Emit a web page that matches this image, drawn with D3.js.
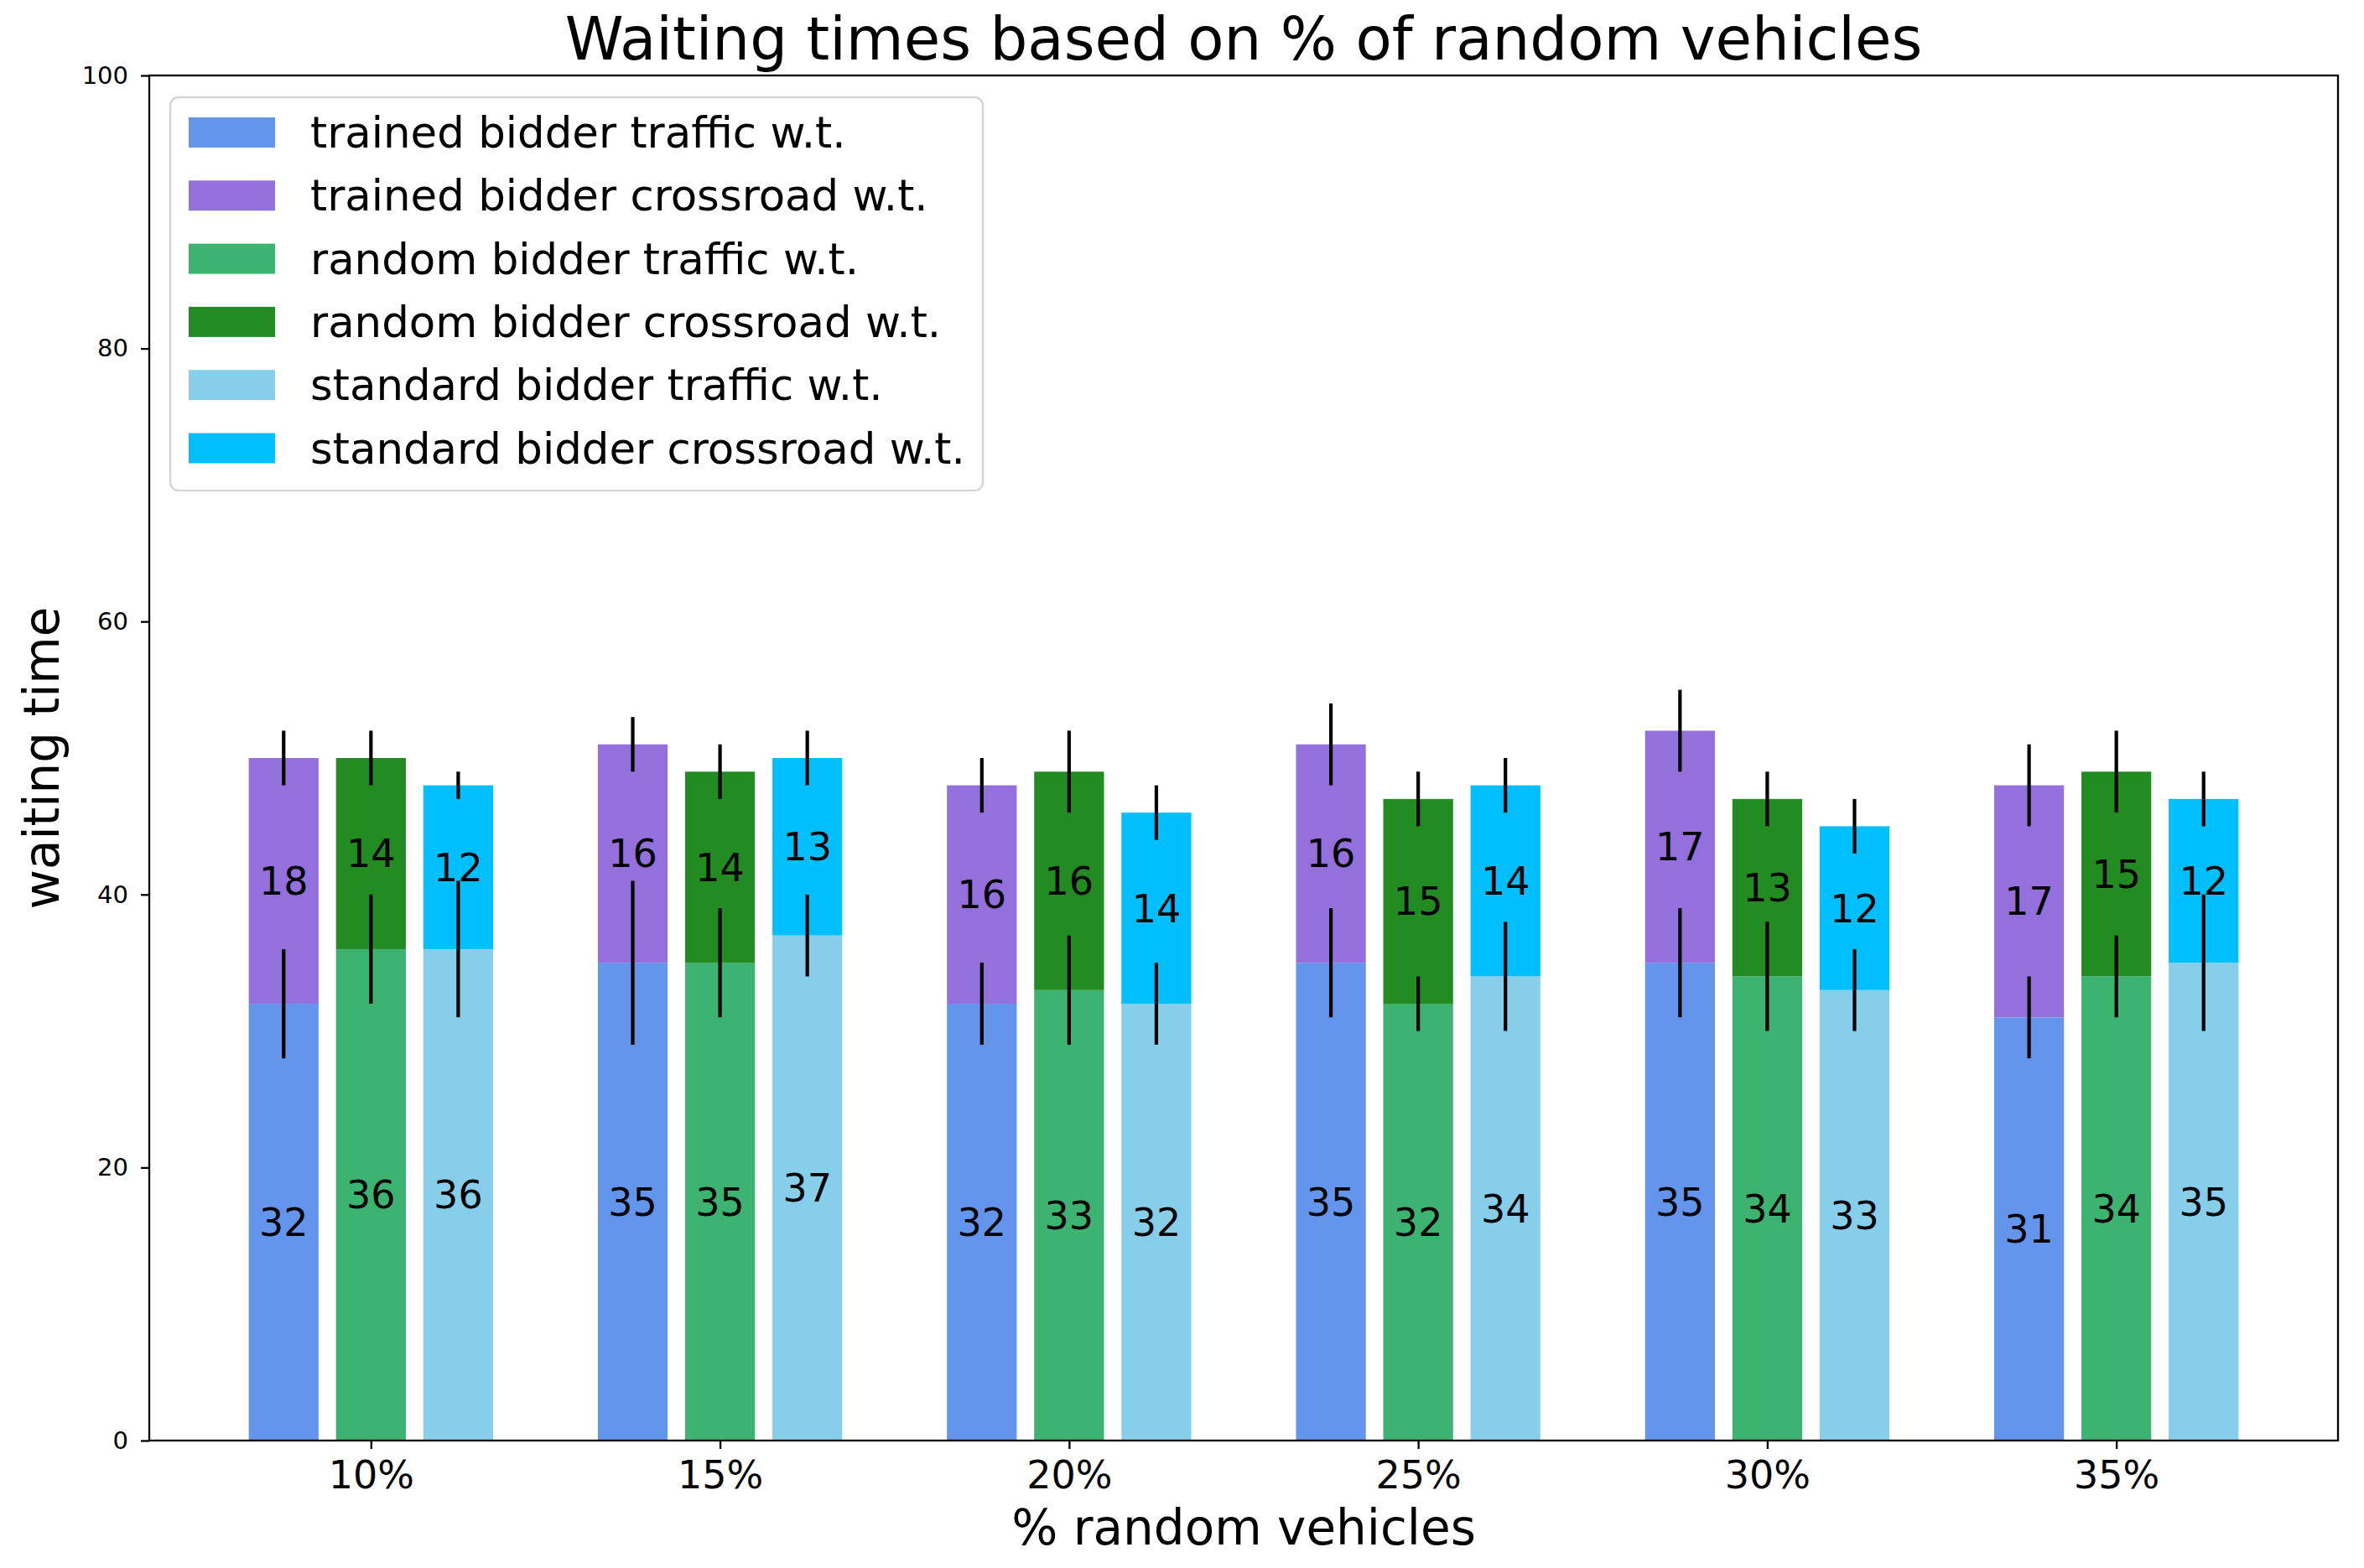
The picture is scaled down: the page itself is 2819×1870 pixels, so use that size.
<!DOCTYPE html>
<html>
<head>
<meta charset="utf-8">
<script src="https://cdn.jsdelivr.net/npm/d3@7"></script>
<style>
  body { margin: 0; background: #fff; }
  text { font-family: "DejaVu Sans", sans-serif; fill: #000; }
</style>
</head>
<body>
<svg class="chart"></svg>
<script>
// categories on the x axis
var categories = ["10%", "15%", "20%", "25%", "30%", "35%"];

// mean waiting times (bottom = traffic, top = crossroad)
var trainedTraffic  = [32, 35, 32, 35, 35, 31];
var trainedCross    = [18, 16, 16, 16, 17, 17];
var randomTraffic   = [36, 35, 33, 32, 34, 34];
var randomCross     = [14, 14, 16, 15, 13, 15];
var standardTraffic = [36, 37, 32, 34, 33, 35];
var standardCross   = [12, 13, 14, 14, 12, 12];

// error bar half lengths
var trainedTrafficErr  = [4, 6, 3, 4, 4, 3];
var trainedCrossErr    = [2, 2, 2, 3, 3, 3];
var randomTrafficErr   = [4, 4, 4, 2, 4, 3];
var randomCrossErr     = [2, 2, 3, 2, 2, 3];
var standardTrafficErr = [5, 3, 3, 4, 3, 5];
var standardCrossErr   = [1, 2, 2, 2, 2, 2];

var yTicks = [0, 20, 40, 60, 80, 100];

var legendLabels = ["trained bidder traffic w.t.", "trained bidder crossroad w.t.",
                    "random bidder traffic w.t.", "random bidder crossroad w.t.",
                    "standard bidder traffic w.t.", "standard bidder crossroad w.t."];
var colors = ["#6495ED", "#9370DB", "#3CB371", "#228B22", "#87CEEB", "#00BFFF"];

// set sizes
var W = 2819, H = 1870;
var margin = {top: 90, right: 31, bottom: 152, left: 178},
    width = W - margin.left - margin.right,
    height = H - margin.top - margin.bottom;

var svg = d3.select(".chart")
    .attr("width", W)
    .attr("height", H);

var g = svg.append("g")
    .attr("transform", "translate(" + margin.left + "," + margin.top + ")");

var x = d3.scaleLinear().domain([-0.635, 5.635]).range([0, width]);
var y = d3.scaleLinear().domain([0, 100]).range([height, 0]);

// build the stacked series for each bidder
var bidders = [
  {traffic: trainedTraffic, cross: trainedCross, tErr: trainedTrafficErr, cErr: trainedCrossErr, c1: colors[0], c2: colors[1]},
  {traffic: randomTraffic, cross: randomCross, tErr: randomTrafficErr, cErr: randomCrossErr, c1: colors[2], c2: colors[3]},
  {traffic: standardTraffic, cross: standardCross, tErr: standardTrafficErr, cErr: standardCrossErr, c1: colors[4], c2: colors[5]}
];

var barW = 0.2, step = 0.25;
var bars = [];
bidders.forEach(function(b, k) {
  categories.forEach(function(c, i) {
    var cx = i + (k - 1) * step;
    bars.push({cx: cx, lo: 0, hi: b.traffic[i], v: b.traffic[i], err: b.tErr[i], color: b.c1});
    bars.push({cx: cx, lo: b.traffic[i], hi: b.traffic[i] + b.cross[i], v: b.cross[i], err: b.cErr[i], color: b.c2});
  });
});

// bars
g.selectAll("rect.bar")
  .data(bars)
  .enter().append("rect")
  .attr("class", "bar")
  .attr("x", function(d) { return x(d.cx - barW / 2); })
  .attr("width", function(d) { return x(d.cx + barW / 2) - x(d.cx - barW / 2); })
  .attr("y", function(d) { return y(d.hi); })
  .attr("height", function(d) { return y(d.lo) - y(d.hi); })
  .style("fill", function(d) { return d.color; });

// error bars (no caps)
g.selectAll("line.err")
  .data(bars)
  .enter().append("line")
  .attr("class", "err")
  .attr("x1", function(d) { return x(d.cx); })
  .attr("x2", function(d) { return x(d.cx); })
  .attr("y1", function(d) { return y(d.hi - d.err); })
  .attr("y2", function(d) { return y(d.hi + d.err); })
  .style("stroke", "#000")
  .style("stroke-width", 4.2);

// value labels in the middle of each segment
g.selectAll("text.val")
  .data(bars)
  .enter().append("text")
  .attr("class", "val")
  .attr("x", function(d) { return x(d.cx); })
  .attr("y", function(d) { return y((d.lo + d.hi) / 2) + 16.5; })
  .attr("text-anchor", "middle")
  .style("font-size", "46px")
  .text(function(d) { return d.v; });

// axes
var xAxis = g.append("g")
  .attr("transform", "translate(0," + height + ")")
  .call(d3.axisBottom(x).tickValues(d3.range(categories.length))
    .tickFormat(function(d) { return categories[d]; })
    .tickSize(10).tickSizeOuter(0).tickPadding(14));
xAxis.selectAll("text").style("font-size", "46px").style("font-family", "DejaVu Sans");

var yAxis = g.append("g")
  .call(d3.axisLeft(y).tickValues(yTicks).tickSize(10).tickSizeOuter(0).tickPadding(15));
yAxis.selectAll("text").style("font-size", "29px").style("font-family", "DejaVu Sans");

g.selectAll(".tick line").style("stroke", "#000").style("stroke-width", 2.3);
g.selectAll(".domain").remove();

// frame
g.append("rect")
  .attr("width", width)
  .attr("height", height)
  .style("fill", "none")
  .style("stroke", "#000")
  .style("stroke-width", 2.3);

// title and axis labels
svg.append("text")
  .attr("x", margin.left + width / 2)
  .attr("y", 71)
  .attr("text-anchor", "middle")
  .style("font-size", "70.7px")
  .text("Waiting times based on % of random vehicles");

svg.append("text")
  .attr("x", margin.left + width / 2)
  .attr("y", 1842)
  .attr("text-anchor", "middle")
  .style("font-size", "58px")
  .text("% random vehicles");

svg.append("text")
  .attr("transform", "translate(70," + (margin.top + height / 2) + ") rotate(-90)")
  .attr("text-anchor", "middle")
  .style("font-size", "58px")
  .text("waiting time");

// legend
var legend = g.append("g").attr("transform", "translate(25,26)");

legend.append("rect")
  .attr("width", 969)
  .attr("height", 469)
  .attr("rx", 10)
  .style("fill", "#fff")
  .style("fill-opacity", 0.8)
  .style("stroke", "#d6d6d6")
  .style("stroke-width", 2.5);

legend.selectAll("rect.key")
  .data(legendLabels)
  .enter().append("rect")
  .attr("class", "key")
  .attr("x", 22)
  .attr("y", function(d, i) { return 24 + i * 75.3; })
  .attr("width", 103)
  .attr("height", 36)
  .style("fill", function(d, i) { return colors[i]; });

legend.selectAll("text")
  .data(legendLabels)
  .enter().append("text")
  .attr("x", 167)
  .attr("y", function(d, i) { return 60 + i * 75.3; })
  .style("font-size", "51.4px")
  .text(function(d) { return d; });
</script>
</body>
</html>
